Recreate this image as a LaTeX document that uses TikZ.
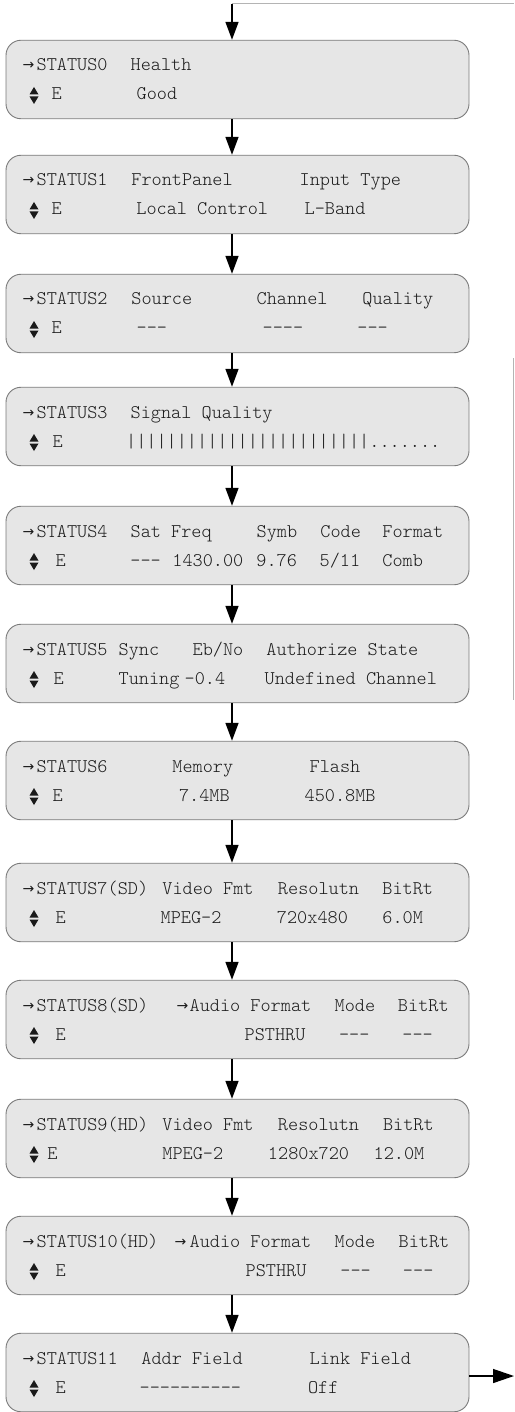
\documentclass[tikz,border=0pt]{standalone}
\usepackage{fontspec}
\newfontfamily\courfont{lmmonolt10-regular.otf}
\newfontfamily\symfont{DejaVu Sans}
\usetikzlibrary{arrows.meta}
\definecolor{boxfill}{HTML}{E6E6E6}
\definecolor{boxline}{HTML}{7A7A7A}
\definecolor{faint}{HTML}{B4B4B4}
\definecolor{ink}{HTML}{1A1A1A}
\newcommand\pc[2]{\rlap{\hspace*{#1pt}#2}}
\newcommand\rar{{\symfont\fontsize{14}{14}\selectfont\raisebox{1pt}{→}}}
\newcommand\updn[2]{%
  \fill[ink] (#1-4.5,#2-5.5) -- (#1+4.5,#2-5.5) -- (#1,#2-13) -- cycle;
  \fill[ink] (#1-4.5,#2-3.5) -- (#1+4.5,#2-3.5) -- (#1,#2+4) -- cycle;}
\tikzset{
  box/.style={draw=boxline, fill=boxfill, rounded corners=15pt,
    minimum width=463pt, minimum height=78.5pt, inner sep=0pt, line width=0.9pt},
  txt/.style={anchor=base west, inner sep=0pt,
    font=\courfont\fontsize{19.3}{22}\selectfont, text=ink},
  flow/.style={line width=1.6pt, -{Triangle[length=18pt,width=13pt]}},
  flowR/.style={line width=1.4pt, -{Triangle[length=21pt,width=14pt]}},
  thinline/.style={draw=faint, line width=1pt},
}
\begin{document}
\begin{tikzpicture}[x=1pt,y=-1pt]
\useasboundingbox (0,0) rectangle (514,1412);
% boxes
\node[box] (s0)  at (237.5,79.5)   {};
\node[box] (s1)  at (237.5,194.5)  {};
\node[box] (s2)  at (237.5,313.5)  {};
\node[box] (s3)  at (237.5,426.5)  {};
\node[box] (s4)  at (237.5,545.5)  {};
\node[box] (s5)  at (237.5,663.5)  {};
\node[box] (s6)  at (237.5,780.5)  {};
\node[box] (s7)  at (237.5,902.5)  {};
\node[box] (s8)  at (237.5,1019.5) {};
\node[box] (s9)  at (237.5,1138.5) {};
\node[box] (s10) at (237.5,1255.5) {};
\node[box] (s11) at (237.5,1372.5) {};
% text lines (baseline = top+31 / top+60)
\node[txt] (s0a) at (0,71)  {\pc{22}{\rar}\pc{36}{STATUS0}\pc{130}{Health}};
\node[txt] (s0b) at (0,100) {\pc{51}{E}\pc{136}{Good}};
\updn{34}{100}
\node[txt] (s1a) at (0,186) {\pc{22}{\rar}\pc{36}{STATUS1}\pc{130.7}{FrontPanel}\pc{299}{Input Type}};
\node[txt] (s1b) at (0,215) {\pc{51}{E}\pc{135.7}{Local Control}\pc{304}{L-Band}};
\updn{34}{215}
\node[txt] (s2a) at (0,305) {\pc{22}{\rar}\pc{36}{STATUS2}\pc{130.7}{Source}\pc{256}{Channel}\pc{361.7}{Quality}};
\node[txt] (s2b) at (0,334) {\pc{51}{E}\pc{136}{---}\pc{262}{----}\pc{356.7}{---}};
\updn{34}{334}
\node[txt] (s3a) at (0,418) {\pc{22}{\rar}\pc{36}{STATUS3}\pc{130}{Signal Quality}};
\node[txt] (s3b) at (0,447) {\pc{52}{E}\pc{125.5}{||||||||||||||||||||||||.......}};
\updn{34}{447}
\node[txt] (s4a) at (0,537) {\pc{22}{\rar}\pc{36}{STATUS4}\pc{130}{Sat Freq}\pc{256}{Symb}\pc{319.7}{Code}\pc{381.7}{Format}};
\node[txt] (s4b) at (0,566) {\pc{55}{E}\pc{129.7}{---}\pc{171.7}{1430.00}\pc{255.7}{9.76}\pc{319}{5/11}\pc{381.7}{Comb}};
\updn{34}{566}
\node[txt] (s5a) at (0,655) {\pc{22}{\rar}\pc{36}{STATUS5}\pc{118}{Sync}\pc{192}{Eb/No}\pc{265.7}{Authorize State}};
\node[txt] (s5b) at (0,684) {\pc{53}{E}\pc{118}{Tuning}\pc{184}{-0.4}\pc{264}{Undefined Channel}};
\updn{34}{684}
\node[txt] (s6a) at (0,772) {\pc{22}{\rar}\pc{36}{STATUS6}\pc{171.7}{Memory}\pc{309}{Flash}};
\node[txt] (s6b) at (0,801) {\pc{52}{E}\pc{178.3}{7.4MB}\pc{304}{450.8MB}};
\updn{34}{801}
\node[txt] (s7a) at (0,894) {\pc{22}{\rar}\pc{36}{STATUS7(SD)}\pc{161.7}{Video Fmt}\pc{277.3}{Resolutn}\pc{381.7}{BitRt}};
\node[txt] (s7b) at (0,923) {\pc{55}{E}\pc{160}{MPEG-2}\pc{276.3}{720x480}\pc{381.7}{6.0M}};
\updn{34}{923}
\node[txt] (s8a) at (0,1011) {\pc{22}{\rar}\pc{36}{STATUS8(SD)}\pc{176}{\rar}\pc{189}{Audio Format}\pc{334}{Mode}\pc{397.3}{BitRt}};
\node[txt] (s8b) at (0,1040) {\pc{55}{E}\pc{244}{PSTHRU}\pc{338.3}{---}\pc{401.7}{---}};
\updn{34}{1040}
\node[txt] (s9a) at (0,1130) {\pc{22}{\rar}\pc{36}{STATUS9(HD)}\pc{161.7}{Video Fmt}\pc{277.3}{Resolutn}\pc{382.3}{BitRt}};
\node[txt] (s9b) at (0,1159) {\pc{46.7}{E}\pc{161.7}{MPEG-2}\pc{267.3}{1280x720}\pc{373}{12.0M}};
\updn{34}{1159}
\node[txt] (s10a) at (0,1247) {\pc{22}{\rar}\pc{36}{STATUS10(HD)}\pc{174}{\rar}\pc{189}{Audio Format}\pc{334}{Mode}\pc{398}{BitRt}};
\node[txt] (s10b) at (0,1276) {\pc{55}{E}\pc{245}{PSTHRU}\pc{339.7}{---}\pc{402.3}{---}};
\updn{34}{1276}
\node[txt] (s11a) at (0,1364) {\pc{22}{\rar}\pc{36}{STATUS11}\pc{140.7}{Addr Field}\pc{309}{Link Field}};
\node[txt] (s11b) at (0,1393) {\pc{55}{E}\pc{139}{----------}\pc{307.3}{Off}};
\updn{34}{1393}
% connectors
\coordinate (ax) at (232,0);
\coordinate (tin) at (232,4);
\coordinate (tr) at (514,4);
\coordinate (r1) at (513,358);
\coordinate (r2) at (513,700);
\coordinate (out) at (514,1376);
\draw[thinline] (tin) -- (tr);
\draw[thinline] (r1) -- (r2);
\draw[flow] (tin) -- (s0.north -| ax);
\draw[flow] (s0.south -| ax) -- (s1.north -| ax);
\draw[flow] (s1.south -| ax) -- (s2.north -| ax);
\draw[flow] (s2.south -| ax) -- (s3.north -| ax);
\draw[flow] (s3.south -| ax) -- (s4.north -| ax);
\draw[flow] (s4.south -| ax) -- (s5.north -| ax);
\draw[flow] (s5.south -| ax) -- (s6.north -| ax);
\draw[flow] (s6.south -| ax) -- (s7.north -| ax);
\draw[flow] (s7.south -| ax) -- (s8.north -| ax);
\draw[flow] (s8.south -| ax) -- (s9.north -| ax);
\draw[flow] (s9.south -| ax) -- (s10.north -| ax);
\draw[flow] (s10.south -| ax) -- (s11.north -| ax);
\draw[flowR] (s11.east |- out) -- (out);
\end{tikzpicture}
\end{document}
